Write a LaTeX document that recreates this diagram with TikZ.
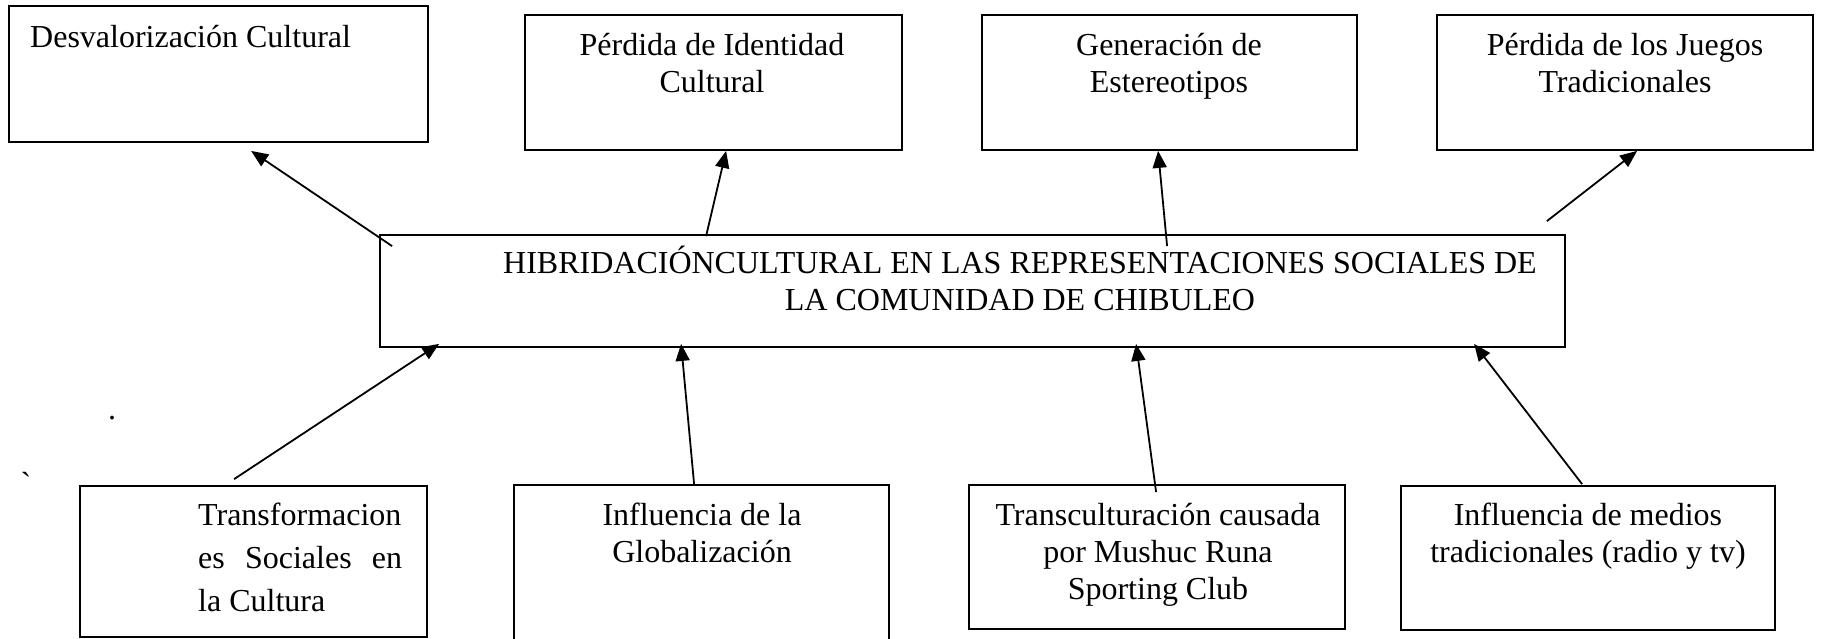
\documentclass[tikz,border=0pt]{standalone}
\usepackage{fontspec}
\setmainfont{Liberation Serif}
\usetikzlibrary{arrows.meta}
\begin{document}
\begin{tikzpicture}[x=1pt,y=-1pt,
  box/.style={draw, line width=1.8pt, inner sep=0pt, rectangle},
  lbl/.style={inner sep=0pt, font=\fontsize{32}{37}\selectfont},
  arr/.style={line width=1.8pt, -{Triangle[length=17pt,width=14pt]}}]
\clip (0,0) rectangle (1824,638);
\fill[white] (0,0) rectangle (1824,638);
% top boxes
\node[box, minimum width=419pt, minimum height=136pt] (b1) at (218.5,74) {};
\node[box, minimum width=377pt, minimum height=135pt] (b2) at (713.5,82.5) {};
\node[box, minimum width=375pt, minimum height=135pt] (b3) at (1169.5,82.5) {};
\node[box, minimum width=376pt, minimum height=135pt] (b4) at (1625,82.5) {};
% central box
\node[box, minimum width=1185pt, minimum height=112pt] (ctr) at (972.5,291) {};
% bottom boxes
\node[box, minimum width=347pt, minimum height=151pt] (c1) at (253.5,561.5) {};
\node[box, minimum width=375pt, minimum height=160pt] (c2) at (701.5,565) {};
\node[box, minimum width=376pt, minimum height=144pt] (c3) at (1157,557) {};
\node[box, minimum width=374pt, minimum height=144pt] (c4) at (1588,558) {};
% texts
\node[lbl, anchor=base west] (t1) at (30,47) {Desvalorización Cultural};
\node[lbl, anchor=base] (t2) at (712,55) {\begin{tabular}[t]{@{}c@{}}Pérdida de Identidad\\Cultural\end{tabular}};
\node[lbl, anchor=base] (t3) at (1169,55) {\begin{tabular}[t]{@{}c@{}}Generación de\\Estereotipos\end{tabular}};
\node[lbl, anchor=base] (t4) at (1625,55) {\begin{tabular}[t]{@{}c@{}}Pérdida de los Juegos\\Tradicionales\end{tabular}};
\node[lbl, anchor=base] (tc) at (1020,273) {\begin{tabular}[t]{@{}c@{}}HIBRIDACIÓNCULTURAL EN LAS REPRESENTACIONES SOCIALES DE\\LA COMUNIDAD DE CHIBULEO\end{tabular}};
\node[lbl, anchor=base west, font=\fontsize{32}{43}\selectfont] (s1) at (198,525) {\begin{tabular}[t]{@{}l@{}}Transformacion\\\makebox[204pt][s]{es Sociales en}\\la Cultura\end{tabular}};
\node[lbl, anchor=base] (s2) at (702,525) {\begin{tabular}[t]{@{}c@{}}Influencia de la\\Globalización\end{tabular}};
\node[lbl, anchor=base] (s3) at (1158,525) {\begin{tabular}[t]{@{}c@{}}Transculturación causada\\por Mushuc Runa\\Sporting Club\end{tabular}};
\node[lbl, anchor=base] (s4) at (1588,525) {\begin{tabular}[t]{@{}c@{}}Influencia de medios\\tradicionales (radio y tv)\end{tabular}};
% stray marks
\node[lbl, anchor=base] (dot) at (112,419) {.};
\node[lbl, anchor=base] (grv) at (26,494) {\textasciigrave};
% arrows up
\draw[arr] ([shift={(13,12)}]ctr.north west) -- ([shift={(243,8)}]b1.south west);
\draw[arr] ([shift={(327,2)}]ctr.north west) -- ([shift={(202,0)}]b2.south west);
\draw[arr] ([shift={(788,12)}]ctr.north west) -- ([shift={(177,0)}]b3.south west);
\draw[arr] ([shift={(-19,-13)}]ctr.north east) -- ([shift={(201,0)}]b4.south west);
% arrows from bottom
\draw[arr] ([shift={(155,-6)}]c1.north west) -- ([shift={(60,-4)}]ctr.south west);
\draw[arr] ([shift={(181,0)}]c2.north west) -- ([shift={(302,-4)}]ctr.south west);
\draw[arr] ([shift={(188,8)}]c3.north west) -- ([shift={(757,-4)}]ctr.south west);
\draw[arr] ([shift={(182,-1)}]c4.north west) -- ([shift={(1095,-4)}]ctr.south west);
\end{tikzpicture}
\end{document}
